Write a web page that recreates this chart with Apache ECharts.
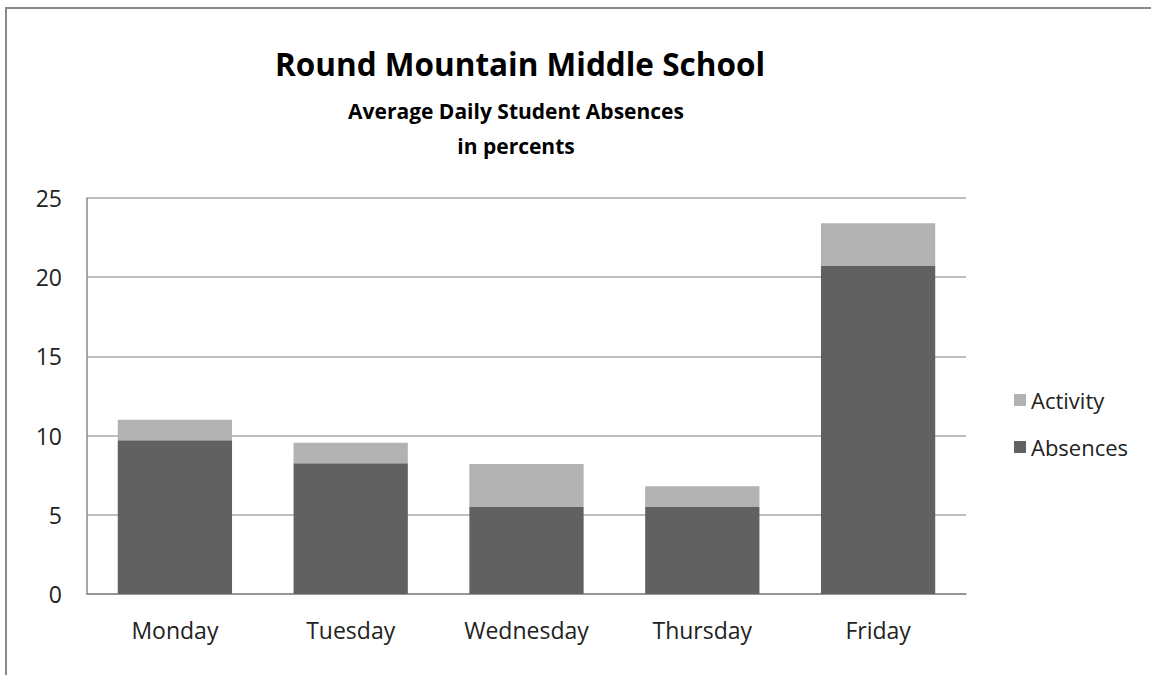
<!DOCTYPE html>
<html>
<head>
<meta charset="utf-8">
<script src="https://cdn.jsdelivr.net/npm/echarts@6/dist/echarts.min.js"></script>
<style>
  html, body { margin: 0; padding: 0; background: #fff; }
  #chart { width: 1151px; height: 675px; }
</style>
</head>
<body>
<div id="chart"></div>
<script>
const categories = ['Monday', 'Tuesday', 'Wednesday', 'Thursday', 'Friday'];
const absences = [9.7, 8.25, 5.5, 5.5, 20.7];
const activity = [1.3, 1.3, 2.7, 1.3, 2.7];
const yTicks = [0, 5, 10, 15, 20, 25];
const titleText = 'Round Mountain Middle School';
const subtitleLines = ['Average Daily Student Absences', 'in percents'];

const FONT = '"Open Sans", "DejaVu Sans", sans-serif';
const chart = echarts.init(document.getElementById('chart'), null, { renderer: 'svg' });

chart.setOption({
  backgroundColor: '#ffffff',
  animation: false,
  graphic: [
    {
      type: 'rect',
      shape: { x: 6, y: 8, width: 1200, height: 700 },
      style: { fill: 'none', stroke: '#8a8a8a', lineWidth: 2 },
      silent: true
    },
    {
      type: 'text', x: 520, y: 63,
      style: { text: titleText, font: 'bold 31.5px ' + FONT, fill: '#000', align: 'center', verticalAlign: 'middle' }
    },
    {
      type: 'text', x: 516, y: 111,
      style: { text: subtitleLines[0], font: 'bold 21px ' + FONT, fill: '#000', align: 'center', verticalAlign: 'middle' }
    },
    {
      type: 'text', x: 516, y: 146,
      style: { text: subtitleLines[1], font: 'bold 21px ' + FONT, fill: '#000', align: 'center', verticalAlign: 'middle' }
    }
  ],
  legend: {
    orient: 'vertical',
    left: 1009,
    top: 384,
    data: ['Activity', 'Absences'],
    icon: 'rect',
    itemWidth: 12,
    itemHeight: 12,
    itemGap: 25,
    textStyle: { fontFamily: FONT, fontSize: 22, color: '#222' }
  },
  grid: { left: 87, right: 185, top: 198, bottom: 81, containLabel: false },
  xAxis: {
    type: 'category',
    data: categories,
    axisLine: { lineStyle: { color: '#888', width: 1.5 } },
    axisTick: { show: false },
    axisLabel: { margin: 24, fontFamily: FONT, fontSize: 23, color: '#222' }
  },
  yAxis: {
    type: 'value',
    min: yTicks[0],
    max: yTicks[yTicks.length - 1],
    interval: yTicks[1] - yTicks[0],
    axisLine: { show: true, lineStyle: { color: '#888', width: 1.5 } },
    axisTick: { show: false },
    axisLabel: { margin: 25, fontFamily: FONT, fontSize: 23, color: '#222' },
    splitLine: { lineStyle: { color: '#a8a8a8', width: 1.5 } }
  },
  series: [
    {
      name: 'Absences', type: 'bar', stack: 'total', data: absences,
      barCategoryGap: '35%',
      itemStyle: { color: '#616161' }
    },
    {
      name: 'Activity', type: 'bar', stack: 'total', data: activity,
      barCategoryGap: '35%',
      itemStyle: { color: '#b2b2b2' }
    }
  ]
});
</script>
</body>
</html>
